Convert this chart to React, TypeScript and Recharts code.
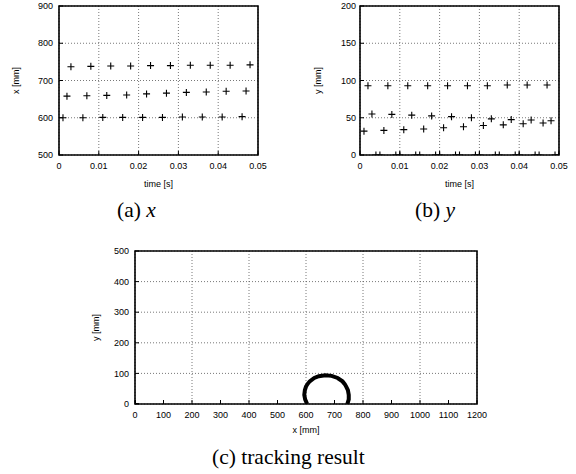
import React from 'react';
import {
  ScatterChart, Scatter, XAxis, YAxis, CartesianGrid, ReferenceArea
} from 'recharts';

// sample times (s) of the three targets in each 5 ms frame
const timeP1 = [0.001, 0.006, 0.011, 0.016, 0.021, 0.026, 0.031, 0.036, 0.041, 0.046];
const timeP2 = [0.002, 0.007, 0.012, 0.017, 0.022, 0.027, 0.032, 0.037, 0.042, 0.047];
const timeP3 = [0.003, 0.008, 0.013, 0.018, 0.023, 0.028, 0.033, 0.038, 0.043, 0.048];
const timeZero = [0.004, 0.005, 0.009, 0.010, 0.014, 0.015, 0.019, 0.020, 0.024, 0.025,
  0.029, 0.030, 0.034, 0.035, 0.039, 0.040, 0.044, 0.045, 0.049, 0.050];

// x [mm]
const xP1 = [600, 600, 601, 601, 601, 601, 602, 602, 602, 603];
const xP2 = [658, 659, 660, 661, 664, 666, 668, 669, 671, 672];
const xP3 = [737, 738, 739, 739, 740, 740, 741, 741, 741, 742];

// y [mm]
const yP1 = [32, 33, 34, 35, 36.5, 38, 39.5, 40.5, 42, 43];
const yP2 = [93, 93, 93, 93, 93, 93, 93, 94, 94, 94];
const yP3 = [55, 54.5, 53.5, 52.5, 51.5, 50, 48.5, 47.5, 47, 46];

// tracked trajectory (c)
const trackX = [604, 597, 594, 596, 600, 606, 613, 629, 645, 668, 690, 711, 728, 736, 741, 747, 750, 750, 745];
const trackY = [0, 15, 30, 45, 57, 66, 74, 85, 91, 94, 92, 85, 74, 65, 57, 45, 30, 15, 0];

const timeTicks = [0, 0.01, 0.02, 0.03, 0.04, 0.05];
const xmmTicks = [500, 600, 700, 800, 900];
const ymmTicks = [0, 50, 100, 150, 200];
const trackXTicks = [0, 100, 200, 300, 400, 500, 600, 700, 800, 900, 1000, 1100, 1200];
const trackYTicks = [0, 100, 200, 300, 400, 500];

const zip = (xs: number[], ys: number[]) => xs.map((x, i) => ({ x, y: ys[i] }));

const font = '"Liberation Sans", Arial, sans-serif';
const tickStyle = { fontSize: 9, fill: '#000', fontFamily: font };

const plus = (s: number, w = 1.1) => (props: any) => {
  const { cx, cy } = props;
  if (cx == null || cy == null) return <g />;
  return (
    <path d={`M${cx - s},${cy}h${2 * s}M${cx},${cy - s}v${2 * s}`} stroke="#000" strokeWidth={w} fill="none" />
  );
};
const noMark = () => <g />;

const grid = <CartesianGrid stroke="#555" strokeDasharray="1 2" strokeWidth={0.8} />;

function TimePanel({ left, width, yw, yLabel, yOffset, yDomain, yTicks, series, rightM, tickGap }: any) {
  return (
    <div style={{ position: 'absolute', left, top: 0 }}>
      <ScatterChart width={width} height={195} margin={{ top: 6, right: rightM, bottom: 0, left: 0 }}>
        {grid}
        <XAxis
          type="number" dataKey="x" domain={[0, 0.05]} ticks={timeTicks} allowDataOverflow
          axisLine={false} tickSize={-4} tickMargin={11.5} tick={tickStyle} height={40}
          tickLine={{ stroke: '#000' }}
          label={{ value: 'time [s]', position: 'insideBottom', offset: 8, style: { fontSize: 9, fontFamily: font, fill: '#000' } }}
        />
        <XAxis xAxisId="top" orientation="top" type="number" domain={[0, 0.05]} ticks={timeTicks}
          height={0} tick={false} axisLine={false} tickSize={-4} tickLine={{ stroke: '#000' }} />
        <YAxis
          type="number" dataKey="y" domain={yDomain} ticks={yTicks} allowDataOverflow
          axisLine={false} tickSize={-4} tickMargin={tickGap + 4} tick={tickStyle} width={yw}
          tickLine={{ stroke: '#000' }}
          label={{ value: yLabel, angle: -90, position: 'insideLeft', offset: yOffset, style: { textAnchor: 'middle', fontSize: 9, fontFamily: font, fill: '#000' } }}
        />
        <YAxis yAxisId="right" orientation="right" type="number" domain={yDomain} ticks={yTicks}
          width={0} tick={false} axisLine={false} tickSize={-4} tickLine={{ stroke: '#000' }} />
        {series.map((d: any, i: number) => (
          <Scatter key={i} data={d} shape={plus(3.5)} isAnimationActive={false} />
        ))}
        <ReferenceArea x1={0} x2={0.05} y1={yDomain[0]} y2={yDomain[1]} fill="none" stroke="#000" strokeWidth={1.6} ifOverflow="visible" />
      </ScatterChart>
    </div>
  );
}

const captionStyle: React.CSSProperties = {
  position: 'absolute', fontFamily: '"Liberation Serif", "Times New Roman", serif', fontSize: 21.5,
  lineHeight: '22px', color: '#000', whiteSpace: 'nowrap'
};

export default function App() {
  return (
    <div style={{ position: 'absolute', left: 0, top: 0, width: 576, height: 474, background: '#fff' }}>
      <TimePanel
        left={0} width={270} yw={59} rightM={12} yLabel="x [mm]" yOffset={16} tickGap={6}
        yDomain={[500, 900]} yTicks={xmmTicks}
        series={[zip(timeP1, xP1), zip(timeP2, xP2), zip(timeP3, xP3)]}
      />
      <TimePanel
        left={290} width={286} yw={70} rightM={17} yLabel="y [mm]" yOffset={28} tickGap={4}
        yDomain={[0, 200]} yTicks={ymmTicks}
        series={[zip(timeP1, yP1), zip(timeP2, yP2), zip(timeP3, yP3), timeZero.map((t) => ({ x: t, y: 0 }))]}
      />

      <div style={{ position: 'absolute', left: 60, top: 240 }}>
        <ScatterChart width={440} height={200} margin={{ top: 11, right: 23, bottom: 0, left: 0 }}>
          {grid}
          <XAxis
            type="number" dataKey="x" domain={[0, 1200]} ticks={trackXTicks} allowDataOverflow
            axisLine={false} tickSize={-4} tickMargin={11.5} tick={tickStyle} height={36}
            tickLine={{ stroke: '#000' }}
            label={{ value: 'x [mm]', position: 'insideBottom', offset: 7, style: { fontSize: 9, fontFamily: font, fill: '#000' } }}
          />
          <XAxis xAxisId="top" orientation="top" type="number" domain={[0, 1200]} ticks={trackXTicks}
            height={0} tick={false} axisLine={false} tickSize={-4} tickLine={{ stroke: '#000' }} />
          <YAxis
            type="number" dataKey="y" domain={[0, 500]} ticks={trackYTicks} allowDataOverflow
            axisLine={false} tickSize={-4} tickMargin={10} tick={tickStyle} width={75}
            tickLine={{ stroke: '#000' }}
            label={{ value: 'y [mm]', angle: -90, position: 'insideLeft', offset: 36, style: { textAnchor: 'middle', fontSize: 9, fontFamily: font, fill: '#000' } }}
          />
          <YAxis yAxisId="right" orientation="right" type="number" domain={[0, 500]} ticks={trackYTicks}
            width={0} tick={false} axisLine={false} tickSize={-4} tickLine={{ stroke: '#000' }} />
          <Scatter data={zip(trackX, trackY)} shape={noMark} line={{ stroke: '#000', strokeWidth: 4 }} isAnimationActive={false} />
          <Scatter data={[{ x: 0, y: 0 }]} shape={plus(4, 2)} isAnimationActive={false} />
          <ReferenceArea x1={0} x2={1200} y1={0} y2={500} fill="none" stroke="#000" strokeWidth={1.6} ifOverflow="visible" />
        </ScatterChart>
      </div>

      <div style={{ ...captionStyle, left: 117, top: 199 }}>(a) <i>x</i></div>
      <div style={{ ...captionStyle, left: 415, top: 199 }}>(b) <i>y</i></div>
      <div style={{ ...captionStyle, left: 212, top: 446 }}>(c) tracking result</div>
    </div>
  );
}
